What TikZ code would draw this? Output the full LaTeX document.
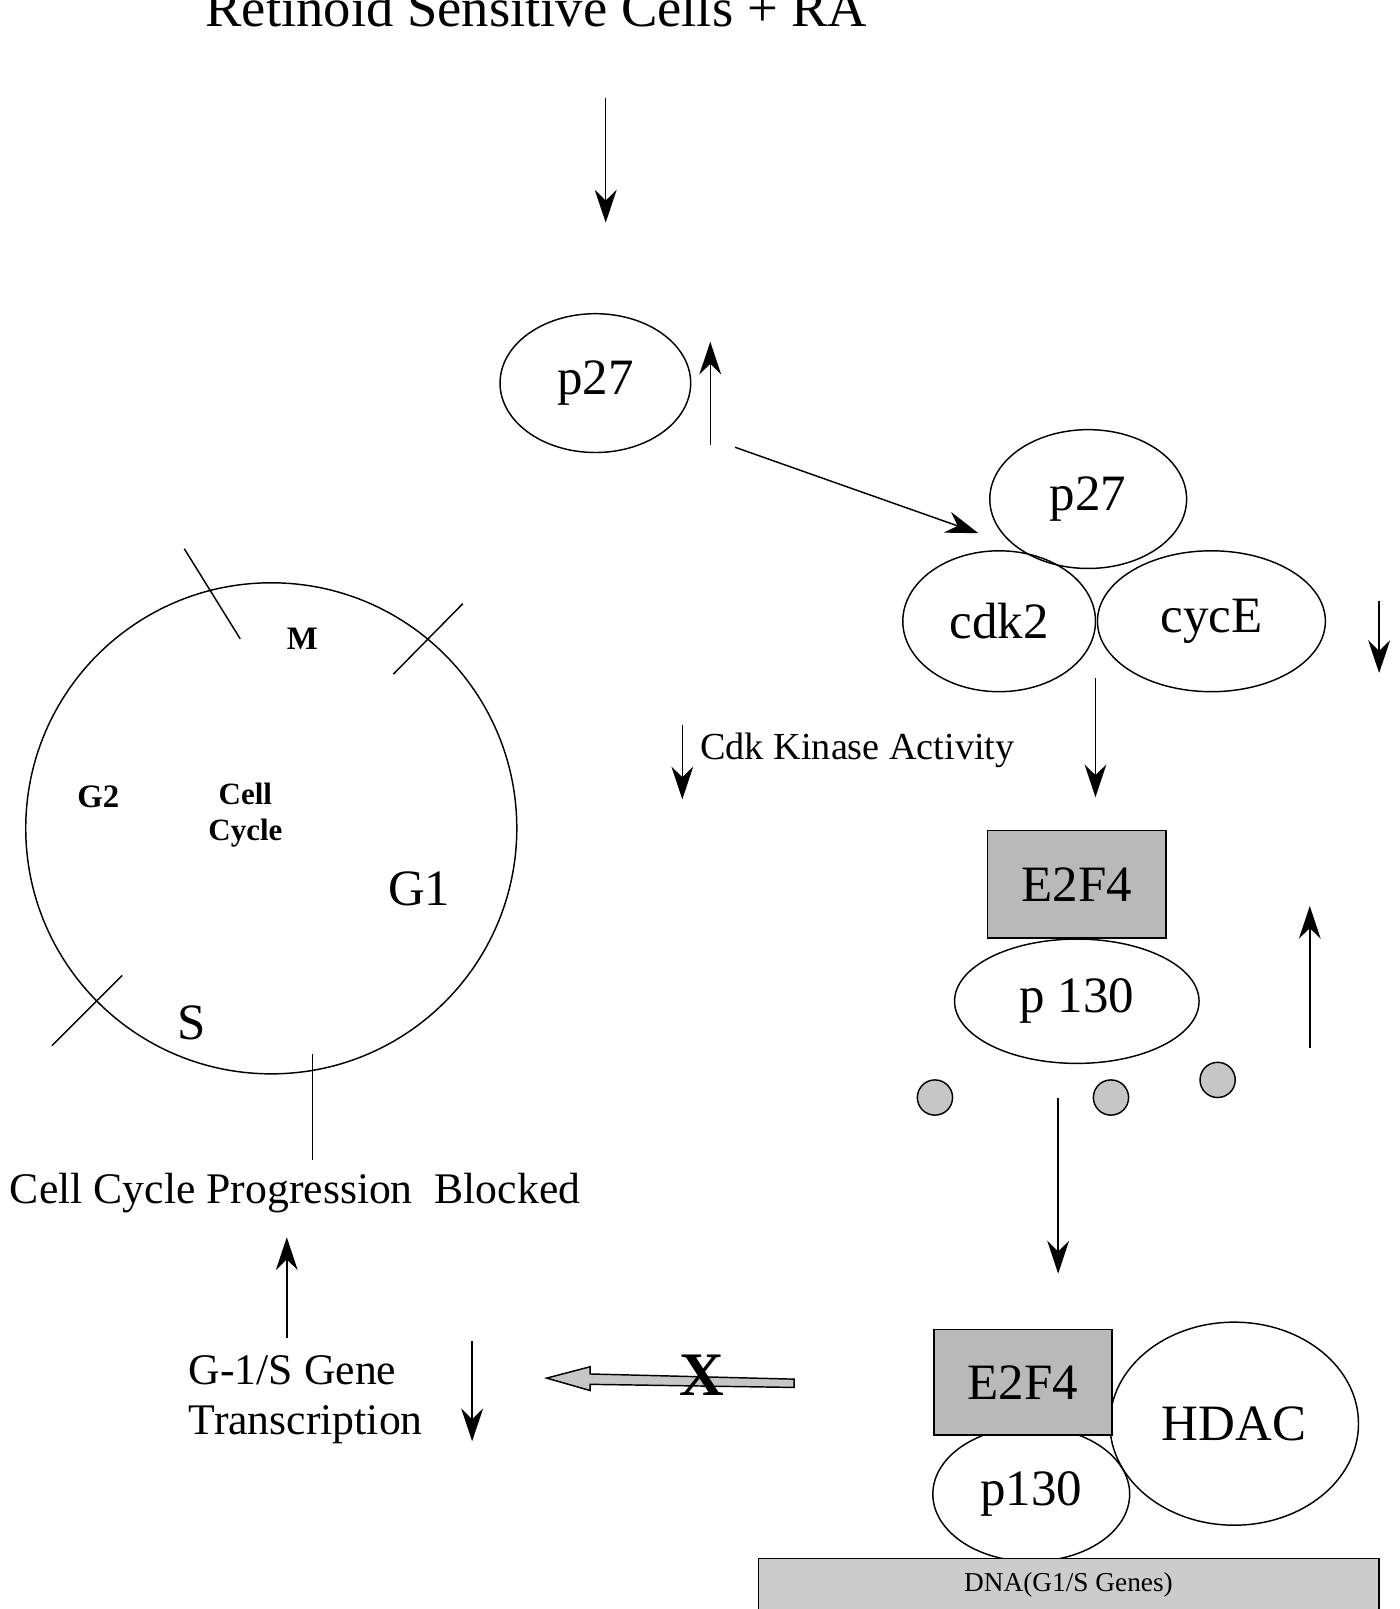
\documentclass[tikz,border=0pt]{standalone}
\usepackage{fontspec}
\setmainfont{Liberation Serif}
\usetikzlibrary{positioning, shapes.geometric, arrows.meta}
\newcommand{\fs}[1]{\fontsize{#1}{1.15\dimexpr#1\relax}\selectfont}
\begin{document}
\begin{tikzpicture}[x=0.01cm, y=-0.01cm, >={Stealth[length=9pt,width=6pt]},
  oval/.style={ellipse, draw, inner sep=0pt, font=\fs{14pt}},
  box/.style={rectangle, draw, fill=gray!55, inner sep=0pt, font=\fs{14pt}},
  dot/.style={circle, draw, fill=gray!45, minimum size=0.34cm, inner sep=0pt},
  every node/.style={align=center}]
    \useasboundingbox (0,0) rectangle (1352,1554);
    % Title and first step
    \node[font=\fs{15pt}, anchor=center] (title) at (518,8) {Retinoid Sensitive Cells + RA};
    \coordinate (a1) at (585,95);
    \coordinate (a2) at (585,215);
    \draw[->] (a1) -- (a2);
    % p27 rising
    \node[oval, minimum width=1.84cm, minimum height=1.34cm] (p27a) at (575,370) {p27};
    \coordinate (u1) at (686,430);
    \coordinate (u2) at (686,330);
    \draw[->] (u1) -- (u2);
    % Complex
    \node[oval, minimum width=1.9cm, minimum height=1.34cm] (p27b) at (1051,482) {p27};
    \node[oval, minimum width=1.86cm, minimum height=1.36cm] (cdk) at (965,600) {cdk2};
    \node[oval, minimum width=2.2cm, minimum height=1.36cm] (cyc) at (1170,600) {cycE};
    \coordinate (b1) at (710,432);
    \coordinate (b2) at (945,515);
    \draw[->] (b1) -- (b2);
    \coordinate (d1) at (1332,580);
    \coordinate (d2) at (1332,650);
    \draw[->] (d1) -- (d2);
    \coordinate (c1) at (1058,655);
    \coordinate (c2) at (1058,770);
    \draw[->] (c1) -- (c2);
    % Kinase activity
    \coordinate (k1) at (659,700);
    \coordinate (k2) at (659,772);
    \draw[->] (k1) -- (k2);
    \node[font=\fs{10.5pt}, anchor=west] (kin) at (664,725) {Cdk Kinase Activity};
    % E2F4 / p130
    \node[box, minimum width=1.72cm, minimum height=1.04cm] (e1) at (1040,854) {E2F4};
    \node[oval, minimum width=2.36cm, minimum height=1.2cm] (p1) at (1040,967) {\raisebox{-1.2ex}{p 130}};
    \coordinate (r1) at (1265,1012);
    \coordinate (r2) at (1265,875);
    \draw[->] (r1) -- (r2);
    \node[dot] (s1) at (903,1060) {};
    \node[dot] (s2) at (1073,1060) {};
    \node[dot] (s3) at (1176,1043) {};
    \coordinate (f1) at (1022,1060);
    \coordinate (f2) at (1022,1230);
    \draw[->] (f1) -- (f2);
    % Repressor complex
    \node[oval, minimum width=2.4cm, minimum height=1.96cm] (hdac) at (1192,1375) {HDAC};
    \node[oval, minimum width=1.9cm, minimum height=1.3cm] (p2) at (996,1443) {\raisebox{-0.5ex}{p130}};
    \node[box, minimum width=1.72cm, minimum height=1.02cm] (e2) at (988,1335) {E2F4};
    \node[box, fill=gray!40, minimum width=5.99cm, minimum height=0.52cm, font=\fs{7.5pt}] (dna) at (1032,1531) {\raisebox{-0.8ex}{DNA(G1/S Genes)}};
    % Blocked transcription
    \fill[gray!45, draw=black, line width=0.4pt] (767,1332)--(767,1340)--(570,1337)--(570,1343)--(528,1331)--(570,1320)--(570,1327)--cycle;
    \node[font=\fs{17pt}\bfseries] (x) at (678,1328) {X};
    \node[font=\fs{12pt}, align=left, anchor=west] (gs) at (170,1352) {G-1/S Gene\\Transcription};
    \coordinate (g1) at (456,1295);
    \coordinate (g2) at (456,1392);
    \draw[->] (g1) -- (g2);
    \coordinate (h1) at (277,1292);
    \coordinate (h2) at (277,1195);
    \draw[->] (h1) -- (h2);
    \node[font=\fs{12pt}] (blk) at (285,1152) {Cell Cycle Progression\ \ Blocked};
    % Cell cycle
    \node[circle, draw, minimum size=4.74cm, inner sep=0pt] (cc) at (262,800) {};
    \coordinate (t1) at (178,530);
    \coordinate (t2) at (232,617);
    \coordinate (t3) at (380,651);
    \coordinate (t4) at (447,583);
    \coordinate (t5) at (50,1010);
    \coordinate (t6) at (118,942);
    \coordinate (t7) at (302,1018);
    \coordinate (t8) at (302,1120);
    \draw (t1) -- (t2);
    \draw (t3) -- (t4);
    \draw (t5) -- (t6);
    \draw (t7) -- (t8);
    \node[font=\fs{9pt}\bfseries] (m) at (292,617) {M};
    \node[font=\fs{9pt}\bfseries] (g2l) at (95,770) {G2};
    \node[font=\fs{8.5pt}\bfseries] (ccl) at (237,787) {Cell\\Cycle};
    \node[font=\fs{14pt}] (g1l) at (405,858) {G1};
    \node[font=\fs{14pt}] (sl) at (185,988) {S};
\end{tikzpicture}
\end{document}
